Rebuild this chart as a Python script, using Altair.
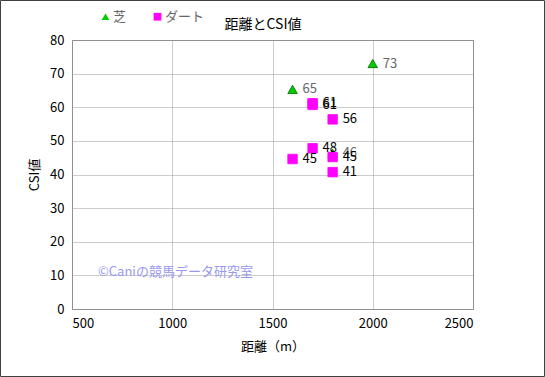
import altair as alt
import pandas as pd

# --- data ---
series_names = ["芝", "ダート"]
turf_dist = [1600, 2000, 1800]
turf_csi = [65.3, 73.0, 46.3]
dirt_dist = [1700, 1700, 1800, 1700, 1600, 1800, 1800]
dirt_csi = [61.2, 60.7, 56.4, 47.8, 44.6, 45.2, 40.7]
x_ticks = [500, 1000, 1500, 2000, 2500]
y_ticks = [0, 10, 20, 30, 40, 50, 60, 70, 80]
title_text = "距離とCSI値"
x_title = "距離（m）"
y_title = "CSI値"
watermark = "©Caniの競馬データ研究室"

rows = [{"dist": d, "csi": c, "kind": series_names[0]} for d, c in zip(turf_dist, turf_csi)]
rows += [{"dist": d, "csi": c, "kind": series_names[1]} for d, c in zip(dirt_dist, dirt_csi)]
df = pd.DataFrame(rows)

FONT = "Noto Sans CJK JP"

x_enc = alt.X("dist:Q", scale=alt.Scale(domain=[500, 2500], nice=False),
              axis=alt.Axis(values=x_ticks, format="d", title=x_title, titlePadding=10))
y_enc = alt.Y("csi:Q", scale=alt.Scale(domain=[0, 80], nice=False),
              axis=alt.Axis(values=y_ticks, format="d", title=y_title, titlePadding=8))

base = alt.Chart(df).encode(x=x_enc, y=y_enc)

points = base.mark_point(filled=True, opacity=1, strokeWidth=0.8).encode(
    color=alt.Color("kind:N", scale=alt.Scale(domain=series_names, range=["#00cc00", "#ff00ff"]),
                    legend=alt.Legend(title=None, orient="none", legendX=27, legendY=-30,
                                      direction="horizontal", labelFontSize=13, labelColor="#666666",
                                      labelFont=FONT, symbolSize=60, columnPadding=24, labelOffset=1,
                                      symbolStrokeWidth=0)),
    shape=alt.Shape("kind:N", scale=alt.Scale(domain=series_names, range=["triangle-up", "square"]),
                    legend=None),
    stroke=alt.Stroke("kind:N", scale=alt.Scale(domain=series_names, range=["#006600", "#ff00ff"]),
                      legend=None),
    size=alt.value(90),
    order=alt.Order("kind:N", sort="descending"),
)

turf_labels = alt.Chart(df[df.kind == series_names[0]]).mark_text(
    align="left", baseline="middle", dx=10, fontSize=13, font=FONT, color="#666666"
).encode(x=x_enc, y=y_enc, text=alt.Text("csi:Q", format=".0f"))

dirt_labels = alt.Chart(df[df.kind == series_names[1]]).mark_text(
    align="left", baseline="middle", dx=10, fontSize=13, font=FONT, color="#000000"
).encode(x=x_enc, y=y_enc, text=alt.Text("csi:Q", format=".0f"))

wm = alt.Chart(pd.DataFrame({"t": [watermark]})).mark_text(
    align="left", baseline="middle", fontSize=13, font=FONT, color="#9999ee"
).encode(x=alt.value(26), y=alt.value(232), text="t:N")

ttl = alt.Chart(pd.DataFrame({"t": [title_text]})).mark_text(
    align="center", baseline="middle", fontSize=14, font=FONT, color="#000000"
).encode(x=alt.value(191), y=alt.value(-15), text="t:N")

frame = alt.Chart(pd.DataFrame({"a": [0]})).mark_rect(
    fill=None, stroke="#404040", strokeWidth=1, clip=False
).encode(x=alt.value(-71.5), x2=alt.value(472.5), y=alt.value(-39.5), y2=alt.value(336.5))

chart = alt.layer(points, turf_labels, dirt_labels, wm, ttl, frame).properties(
    width=401, height=269,
    padding={"left": 72, "top": 40, "right": 72, "bottom": 68},
    autosize=alt.AutoSizeParams(type="none"),
    background="white",
).configure_view(stroke="#888888", strokeWidth=1).configure_axis(
    labelFont=FONT, titleFont=FONT, labelFontSize=13, titleFontSize=13,
    labelColor="#000000", titleColor="#000000", titleFontWeight="normal",
    ticks=False, labelPadding=8, domain=False,
    grid=True, gridColor="#999999", gridDash=[1, 1], gridOpacity=1,
)

chart.save("out.html", embed_options={"renderer": "svg", "actions": False})
